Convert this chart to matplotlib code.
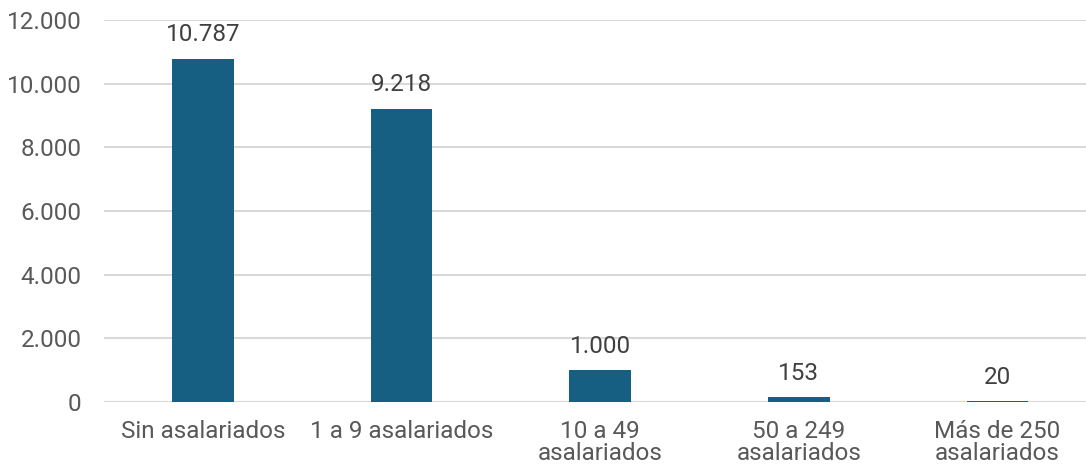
import matplotlib.pyplot as plt
from matplotlib.ticker import FuncFormatter

# Empresas según número de asalariados
categorias = ['Sin asalariados', '1 a 9 asalariados', '10 a 49\nasalariados',
              '50 a 249\nasalariados', 'Más de 250\nasalariados']
empresas = [10787, 9218, 1000, 153, 20]

plt.rcParams['font.family'] = ['Roboto', 'DejaVu Sans']

fig = plt.figure(figsize=(10.86, 4.73), dpi=100)
ax = fig.add_axes([0.0955, 0.150, 0.9144, 0.8076])

x = range(len(categorias))
bars = ax.bar(x, empresas, width=0.31, color='#165F82', zorder=3)

for b, v in zip(bars, empresas):
    ax.annotate(f'{v:,}'.replace(',', '.'), (b.get_x() + b.get_width() / 2, v),
                xytext=(0, 9), textcoords='offset points',
                ha='center', va='bottom', fontsize=17.5, color='#404040')

ax.set_xlim(-0.5, len(categorias) - 0.5)
ax.set_ylim(0, 12000)
ax.set_yticks(range(0, 12001, 2000))
ax.yaxis.set_major_formatter(FuncFormatter(lambda v, p: f'{int(v):,}'.replace(',', '.')))
ax.set_xticks(list(x))
ax.set_xticklabels(categorias, linespacing=0.95)

ax.grid(axis='y', color='#D9D9D9', linewidth=1.5, zorder=0)
for s in ax.spines.values():
    s.set_visible(False)
ax.tick_params(axis='both', length=0, labelsize=17.5, colors='#595959')
ax.tick_params(axis='y', pad=16)
ax.tick_params(axis='x', pad=13)

fig.savefig('out.png', dpi=100)
